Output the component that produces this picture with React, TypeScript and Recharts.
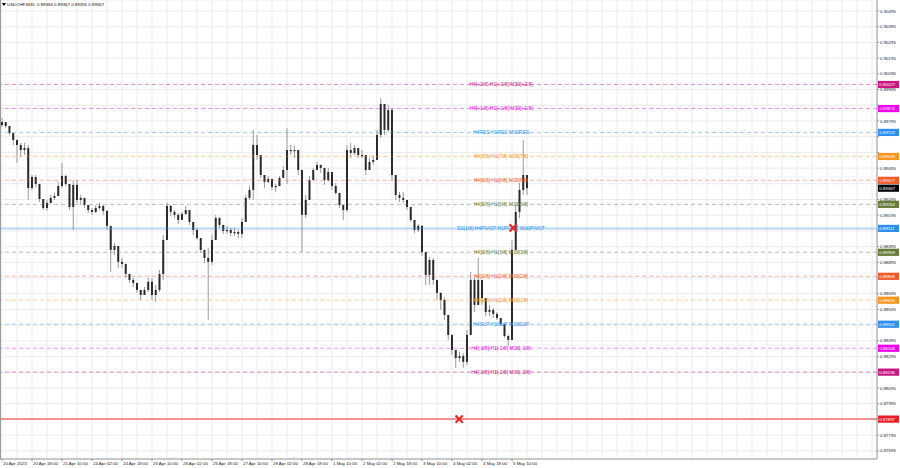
import {
  Bar,
  CartesianGrid,
  ComposedChart,
  ReferenceLine,
  Scatter,
  XAxis,
  YAxis,
} from "recharts";

// 2-hour candles, 20 Apr 2023 02:00 .. 5 May 2023 ~12:00 (USDCHF)
const opens = [
  0.89769, 0.89788, 0.89763, 0.89718, 0.89674, 0.89642, 0.8961, 0.89623, 0.89368, 0.89438,
  0.89394, 0.89298, 0.89241, 0.89273, 0.89305, 0.89317, 0.89381, 0.89445, 0.89394, 0.89247,
  0.89388, 0.89292, 0.89305, 0.8926, 0.89228, 0.89216, 0.89241, 0.89254, 0.89222, 0.89127,
  0.88974, 0.88999, 0.88898, 0.88885, 0.88821, 0.88783, 0.88764, 0.88719, 0.88687, 0.88719,
  0.88771, 0.88687, 0.88719, 0.88821, 0.89037, 0.89254, 0.89216, 0.89197, 0.89165, 0.89203,
  0.89228, 0.89152, 0.89101, 0.8905, 0.88974, 0.88923, 0.88898, 0.89037, 0.89177, 0.89133,
  0.89095, 0.89101, 0.89082, 0.89088, 0.89076, 0.89152, 0.89305, 0.89356, 0.89642, 0.89578,
  0.89451, 0.89407, 0.89426, 0.89375, 0.89381, 0.89432, 0.89483, 0.8961, 0.8961, 0.8961,
  0.89483, 0.89197, 0.89292, 0.89419, 0.89483, 0.89515, 0.89496, 0.89419, 0.8947, 0.89381,
  0.89337, 0.8926, 0.89228, 0.8961, 0.89591, 0.89623, 0.89578, 0.89578, 0.89483, 0.89534,
  0.89547, 0.89706, 0.89903, 0.89738, 0.89865, 0.89451, 0.89324, 0.89305, 0.89292, 0.89247,
  0.89165, 0.89101, 0.89127, 0.88961, 0.88815, 0.8891, 0.88783, 0.887, 0.88655, 0.8856,
  0.88433, 0.88337, 0.88286, 0.88299, 0.88261, 0.88433, 0.88783, 0.88624, 0.88783, 0.88668,
  0.88579, 0.88592, 0.88566, 0.88541, 0.88503, 0.88426, 0.88401, 0.88974, 0.89216, 0.89356,
  0.89451,
];
const highs = [
  0.89814, 0.89788, 0.89763, 0.89718, 0.89674, 0.89655, 0.89655, 0.89642, 0.89451, 0.89451,
  0.89394, 0.89298, 0.89292, 0.89324, 0.89337, 0.89407, 0.89528, 0.89451, 0.89394, 0.89419,
  0.89419, 0.89324, 0.89305, 0.8926, 0.89241, 0.8926, 0.89273, 0.8926, 0.89228, 0.89127,
  0.89018, 0.88999, 0.88923, 0.88885, 0.88821, 0.88796, 0.88764, 0.88719, 0.88738, 0.88796,
  0.88796, 0.88751, 0.88846, 0.89069, 0.89273, 0.8926, 0.89228, 0.89209, 0.89216, 0.89254,
  0.89228, 0.89152, 0.89114, 0.8905, 0.88974, 0.88987, 0.89069, 0.89197, 0.89184, 0.89133,
  0.89127, 0.89114, 0.89114, 0.89101, 0.89177, 0.89324, 0.89381, 0.89738, 0.89706, 0.89578,
  0.89451, 0.89445, 0.89426, 0.89394, 0.89445, 0.89508, 0.8975, 0.89642, 0.89636, 0.8961,
  0.89483, 0.89324, 0.89445, 0.89496, 0.89534, 0.89515, 0.89496, 0.89496, 0.8947, 0.894,
  0.89337, 0.8926, 0.89642, 0.89655, 0.89642, 0.89623, 0.8961, 0.89578, 0.89559, 0.89578,
  0.89738, 0.89941, 0.89903, 0.89897, 0.89878, 0.89451, 0.89343, 0.89343, 0.89292, 0.89247,
  0.89165, 0.89139, 0.89133, 0.88961, 0.88929, 0.88923, 0.88783, 0.88706, 0.88668, 0.8856,
  0.88433, 0.88337, 0.88325, 0.88318, 0.88465, 0.88834, 0.88796, 0.88923, 0.88783, 0.88668,
  0.88624, 0.88605, 0.88579, 0.88541, 0.88503, 0.88433, 0.89037, 0.8926, 0.894, 0.89674,
  0.89451,
];
const lows = [
  0.89757, 0.8975, 0.89706, 0.89642, 0.89528, 0.89566, 0.89578, 0.89292, 0.89356, 0.89375,
  0.89279, 0.89228, 0.89222, 0.89273, 0.89292, 0.89317, 0.89368, 0.89381, 0.89228, 0.89101,
  0.89273, 0.8926, 0.89241, 0.89209, 0.89197, 0.89209, 0.89228, 0.89197, 0.89101, 0.88834,
  0.88942, 0.88859, 0.88859, 0.88796, 0.88764, 0.88738, 0.887, 0.88655, 0.88687, 0.88706,
  0.88655, 0.88643, 0.88706, 0.88783, 0.89037, 0.8919, 0.89177, 0.89139, 0.89165, 0.89197,
  0.89133, 0.89069, 0.89037, 0.88955, 0.88891, 0.88528, 0.88878, 0.89037, 0.89114, 0.89076,
  0.89076, 0.89063, 0.89063, 0.8905, 0.8905, 0.89152, 0.89292, 0.89292, 0.89547, 0.89432,
  0.89368, 0.894, 0.89356, 0.89343, 0.89381, 0.89432, 0.89394, 0.89578, 0.89559, 0.89451,
  0.88961, 0.89177, 0.89292, 0.89419, 0.89483, 0.89464, 0.89388, 0.89407, 0.89356, 0.89324,
  0.89241, 0.89165, 0.89216, 0.89559, 0.89578, 0.89559, 0.89559, 0.89451, 0.89483, 0.89515,
  0.89547, 0.89687, 0.89706, 0.89725, 0.89419, 0.89292, 0.89279, 0.89273, 0.89228, 0.89152,
  0.89082, 0.89088, 0.88936, 0.88751, 0.88751, 0.88751, 0.88655, 0.88592, 0.88528, 0.88401,
  0.88305, 0.88223, 0.88261, 0.88223, 0.88242, 0.88433, 0.88579, 0.88624, 0.88624, 0.88554,
  0.88554, 0.88541, 0.88528, 0.8849, 0.88414, 0.88363, 0.88401, 0.88974, 0.89177, 0.89324,
  0.89324,
];
const closes = [
  0.89788, 0.89763, 0.89718, 0.89674, 0.89642, 0.8961, 0.89623, 0.89368, 0.89438, 0.89394,
  0.89298, 0.89241, 0.89273, 0.89305, 0.89317, 0.89381, 0.89445, 0.89394, 0.89247, 0.89388,
  0.89292, 0.89305, 0.8926, 0.89228, 0.89216, 0.89241, 0.89254, 0.89222, 0.89127, 0.88974,
  0.88999, 0.88898, 0.88885, 0.88821, 0.88783, 0.88764, 0.88719, 0.88687, 0.88719, 0.88771,
  0.88687, 0.88719, 0.88821, 0.89037, 0.89254, 0.89216, 0.89197, 0.89165, 0.89203, 0.89228,
  0.89152, 0.89101, 0.8905, 0.88974, 0.88923, 0.88898, 0.89037, 0.89177, 0.89133, 0.89095,
  0.89101, 0.89082, 0.89088, 0.89076, 0.89152, 0.89305, 0.89356, 0.89642, 0.89578, 0.89451,
  0.89407, 0.89426, 0.89375, 0.89381, 0.89432, 0.89483, 0.8961, 0.8961, 0.8961, 0.89483,
  0.89197, 0.89292, 0.89419, 0.89483, 0.89515, 0.89496, 0.89419, 0.8947, 0.89381, 0.89337,
  0.8926, 0.89228, 0.8961, 0.89591, 0.89623, 0.89578, 0.89578, 0.89483, 0.89534, 0.89547,
  0.89706, 0.89903, 0.89738, 0.89865, 0.89451, 0.89324, 0.89305, 0.89292, 0.89247, 0.89165,
  0.89101, 0.89127, 0.88961, 0.88815, 0.8891, 0.88783, 0.887, 0.88655, 0.8856, 0.88433,
  0.88337, 0.88286, 0.88299, 0.88261, 0.88433, 0.88783, 0.88624, 0.88783, 0.88668, 0.88579,
  0.88592, 0.88566, 0.88541, 0.88503, 0.88426, 0.88401, 0.88974, 0.89216, 0.89356, 0.89451,
  0.89367,
];

const xTickLabels = [
  "20 Apr 2023", "20 Apr 18:00", "21 Apr 10:00", "24 Apr 02:00", "24 Apr 18:00",
  "25 Apr 10:00", "26 Apr 02:00", "26 Apr 18:00", "27 Apr 10:00", "28 Apr 02:00",
  "28 Apr 18:00", "1 May 10:00", "2 May 02:00", "2 May 18:00", "3 May 10:00",
  "4 May 02:00", "4 May 18:00", "5 May 10:00",
];
const gridTicks = [
  0, 4, 8, 12, 16, 20, 24, 28, 32, 36, 40, 44, 48, 52, 56, 60, 64, 68, 72, 76, 80,
  84, 88, 92, 96, 100, 104, 108, 112, 116, 120, 124, 128, 132, 136, 140, 144, 148,
  152, 156, 160, 164, 168, 172, 176, 180, 184, 188, 192, 196, 200, 204, 208, 212,
  216, 220, 224, 228, 232,
];
const priceTicks = [
  0.87695, 0.87795, 0.87895, 0.87995, 0.88095, 0.88195, 0.88295, 0.88395, 0.88495,
  0.88595, 0.88695, 0.88795, 0.88895, 0.88995, 0.89095, 0.89195, 0.89295, 0.89395,
  0.89495, 0.89595, 0.89695, 0.89795, 0.89895, 0.89995, 0.90095, 0.90195, 0.90295,
  0.90395, 0.90495,
];

// Murrey math levels
const levelPrices = [
  0.90027, 0.89874, 0.89722, 0.89569, 0.89417, 0.89264, 0.89111, 0.88959, 0.88806,
  0.88654, 0.88501, 0.88348, 0.88196,
];
const levelNames = [
  "H4[+2/8] H1[+2/8] M30[+2/8]",
  "H4[+1/8] H1[+1/8] M30[+1/8]",
  "H4RES H1RES M30RES",
  "H4[7/8] H1[7/8] M30[7/8]",
  "H4[6/8] H1[6/8] M30[6/8]",
  "H4[5/8] H1[5/8] M30[5/8]",
  "D1[1/8] H4PIVOT H1PIVOT M30PIVOT",
  "H4[3/8] H1[3/8] M30[3/8]",
  "H4[2/8] H1[2/8] M30[2/8]",
  "H4[1/8] H1[1/8] M30[1/8]",
  "H4SUP H1SUP M30SUP",
  "H4[-1/8] H1[-1/8] M30[-1/8]",
  "H4[-2/8] H1[-2/8] M30[-2/8]",
];
const levelColors = [
  "#c8157f", "#ee00ee", "#2f8ff0", "#f7941d", "#f25a28", "#667a38", "#2f8ff0",
  "#667a38", "#f25a28", "#f7941d", "#2f8ff0", "#ee00ee", "#c8157f",
];

const stopPrice = 0.87897;
const bidPrice = 0.89367;
const markerIdx = [136.3, 121.9];
const markerPrices = [0.89114, 0.87897];

const candles = closes.map((c, i) => ({
  idx: i,
  open: opens[i],
  high: highs[i],
  low: lows[i],
  close: c,
  range: [lows[i], highs[i]],
}));
const markers = markerIdx.map((m, i) => ({ idx: m, price: markerPrices[i] }));
const boxPrices = [...levelPrices, stopPrice, bidPrice];

const FONT = '"Liberation Sans", Arial, sans-serif';

function Candle(props: any) {
  const { x, y, width, height, payload } = props;
  if (x == null || y == null) return <g />;
  const top = Math.min(y, y + height);
  const h = Math.abs(height);
  const span = payload.high - payload.low || 1e-9;
  const py = (p: number) => top + ((payload.high - p) / span) * h;
  const oy = py(payload.open);
  const cy = py(payload.close);
  const cx = x + width / 2;
  const bw = 2;
  return (
    <g>
      <line x1={cx} x2={cx} y1={top} y2={top + h} stroke="#9a9a9a" strokeWidth={1} />
      <rect
        x={cx - bw / 2}
        y={Math.min(oy, cy)}
        width={bw}
        height={Math.max(Math.abs(oy - cy), 1.2)}
        fill="#2a2a2a"
      />
    </g>
  );
}

function XMark(props: any) {
  const { cx, cy } = props;
  const s = 3.6;
  return (
    <g stroke="#ef2020" strokeWidth={2}>
      <line x1={cx - s} y1={cy - s} x2={cx + s} y2={cy + s} />
      <line x1={cx - s} y1={cy + s} x2={cx + s} y2={cy - s} />
    </g>
  );
}

function XTick(props: any) {
  const { x, y, payload } = props;
  const t = payload.value;
  const k = t / 8;
  if (t % 8 !== 0 || k >= xTickLabels.length) return <g />;
  return (
    <g>
      <line x1={x} x2={x} y1={y - 8} y2={y - 6} stroke="#8a8a8a" />
      <text x={x + 1} y={y - 2.5} fontSize={4.4} fontFamily={FONT} fill="#222" textAnchor="start">
        {xTickLabels[k]}
      </text>
    </g>
  );
}

function YTick(props: any) {
  const { x, y, payload } = props;
  const hidden = boxPrices.some((b) => Math.abs(b - payload.value) < 0.00028);
  if (hidden) return <g />;
  return (
    <text x={x} y={y} dy={1.6} fontSize={4.4} fontFamily={FONT} fill="#222" textAnchor="start">
      {payload.value.toFixed(5)}
    </text>
  );
}

function LevelLabel(props: any) {
  const { viewBox, text, color, price } = props;
  if (!viewBox) return <g />;
  const y = viewBox.y;
  const right = viewBox.x + viewBox.width;
  return (
    <g>
      {text ? (
        <text
          x={viewBox.x + 501}
          y={y}
          dy={1.8}
          textAnchor="middle"
          fontSize={5}
          fontFamily={FONT}
          fill={color}
        >
          {text}
        </text>
      ) : null}
      <rect x={right + 1} y={y - 3.6} width={21} height={7.2} fill={color} />
      <text x={right + 2.2} y={y} dy={1.6} fontSize={4.4} fontFamily={FONT} fill="#fff">
        {price.toFixed(5)}
      </text>
    </g>
  );
}

export default function App() {
  return (
    <div style={{ position: "relative", width: 900, height: 468, background: "#fff" }}>
      <style>{`body{margin:0}`}</style>
      <ComposedChart
        width={900}
        height={468}
        data={candles}
        margin={{ top: 0, right: 0, bottom: 0, left: 0 }}
      >
        <CartesianGrid stroke="#ebebeb" strokeWidth={1} />
        <XAxis
          dataKey="idx"
          type="number"
          domain={[-0.533, 233.33]}
          allowDataOverflow
          ticks={gridTicks}
          tick={<XTick />}
          tickLine={false}
          axisLine={{ stroke: "#9a9a9a" }}
          height={9}
          interval={0}
        />
        <YAxis
          orientation="right"
          type="number"
          domain={[0.87643, 0.90565]}
          allowDataOverflow
          ticks={priceTicks}
          tick={<YTick />}
          tickSize={2}
          tickMargin={1}
          tickLine={{ stroke: "#9a9a9a" }}
          axisLine={{ stroke: "#9a9a9a" }}
          width={23}
          interval={0}
        />
        {levelPrices.map((p, i) => (
          <ReferenceLine
            key={p}
            y={p}
            stroke={levelColors[i]}
            strokeOpacity={i === 6 ? 0.35 : 0.45}
            strokeWidth={i === 6 ? 2 : 1}
            strokeDasharray={i === 6 ? undefined : "4 3"}
            ifOverflow="visible"
            label={<LevelLabel text={levelNames[i]} color={levelColors[i]} price={p} />}
          />
        ))}
        <ReferenceLine
          y={stopPrice}
          stroke="#f05050"
          strokeOpacity={0.8}
          strokeWidth={1.5}
          label={<LevelLabel text="" color="#ea1c24" price={stopPrice} />}
        />
        <ReferenceLine
          y={bidPrice}
          stroke="#000"
          strokeOpacity={0}
          label={<LevelLabel text="" color="#000" price={bidPrice} />}
        />
        <Bar dataKey="range" barSize={3} shape={<Candle />} isAnimationActive={false} />
        <Scatter data={markers} dataKey="price" shape={<XMark />} isAnimationActive={false} />
      </ComposedChart>
      <div
        style={{
          position: "absolute",
          left: 0,
          top: 0,
          width: 1,
          height: 459,
          background: "#9a9a9a",
        }}
      />
      <div
        style={{
          position: "absolute",
          left: 2,
          top: 3,
          width: 0,
          height: 0,
          borderLeft: "2px solid transparent",
          borderRight: "2px solid transparent",
          borderTop: "3px solid #000",
        }}
      />
      <div
        style={{
          position: "absolute",
          left: 7,
          top: 1.5,
          fontFamily: FONT,
          fontSize: 4.4,
          lineHeight: "6px",
          whiteSpace: "pre",
          color: "#111",
        }}
      >
        {"USDCHF,M30  0.89366 0.89367 0.89355 0.89367"}
      </div>
    </div>
  );
}
